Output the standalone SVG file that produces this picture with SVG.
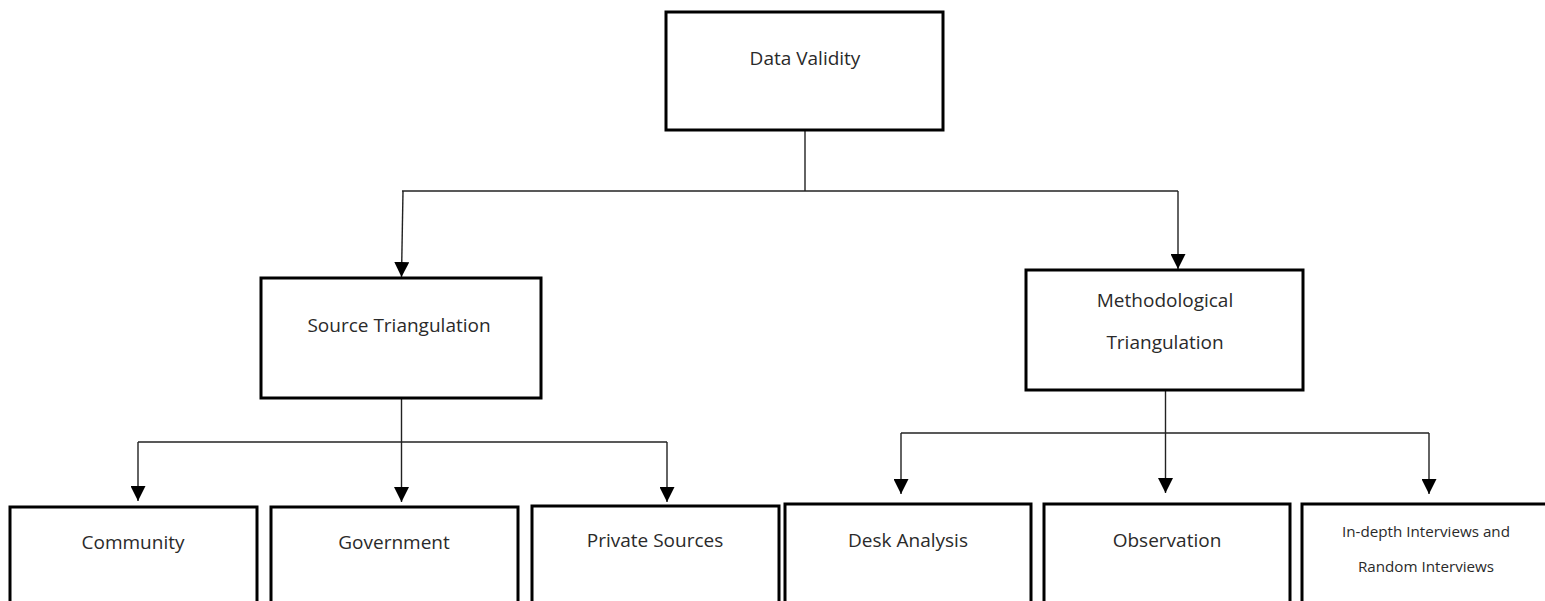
<svg xmlns="http://www.w3.org/2000/svg" width="1545" height="601" viewBox="0 0 1545 601">
<style>
.box{fill:#fff;stroke:#000;stroke-width:3}
.lbl{font-family:"Open Sans","Noto Sans","Liberation Sans",sans-serif;font-size:19px;fill:#2a2a2a;text-anchor:middle}
.sm{font-size:15.2px}
.con{fill:none;stroke:#222;stroke-width:1.4}
</style>
<defs>
<marker id="ah" markerUnits="userSpaceOnUse" markerWidth="15" markerHeight="15" viewBox="0 0 15 15" refX="15" refY="7.5" orient="auto">
<path d="M0,0 L15,7.5 L0,15 Z" fill="#000"/>
</marker>
</defs>
<rect width="1545" height="601" fill="#fff"/>
<g id="connectors">
<path class="con" d="M805,130 V191"/>
<path class="con" d="M402,191 H1178"/>
<path class="con" d="M403,191 L401.5,277" marker-end="url(#ah)"/>
<path class="con" d="M1178,191 V269" marker-end="url(#ah)"/>
<path class="con" d="M401.5,398 V502" marker-end="url(#ah)"/>
<path class="con" d="M138,442 H667"/>
<path class="con" d="M138,442 V501" marker-end="url(#ah)"/>
<path class="con" d="M667,442 V502" marker-end="url(#ah)"/>
<path class="con" d="M1165.5,390 V493" marker-end="url(#ah)"/>
<path class="con" d="M901,433 H1429"/>
<path class="con" d="M901,433 V494" marker-end="url(#ah)"/>
<path class="con" d="M1429,433 V494" marker-end="url(#ah)"/>
</g>
<g id="data-validity"><rect class="box" x="666" y="12" width="277" height="118"/><text class="lbl" x="805" y="65">Data Validity</text></g>
<g id="source-triangulation"><rect class="box" x="261" y="278" width="280" height="120"/><text class="lbl" x="399" y="332">Source Triangulation</text></g>
<g id="methodological-triangulation"><rect class="box" x="1026" y="270" width="277" height="120"/><text class="lbl" x="1165" y="307">Methodological</text><text class="lbl" x="1165" y="349">Triangulation</text></g>
<g id="community"><rect class="box" x="10" y="507" width="247" height="110"/><text class="lbl" x="133" y="549">Community</text></g>
<g id="government"><rect class="box" x="271" y="507" width="247" height="110"/><text class="lbl" x="394" y="549">Government</text></g>
<g id="private-sources"><rect class="box" x="532" y="506" width="247" height="110"/><text class="lbl" x="655" y="547">Private Sources</text></g>
<g id="desk-analysis"><rect class="box" x="785" y="504" width="246" height="110"/><text class="lbl" x="908" y="547">Desk Analysis</text></g>
<g id="observation"><rect class="box" x="1044" y="504" width="246" height="110"/><text class="lbl" x="1167" y="547">Observation</text></g>
<g id="interviews"><rect class="box" x="1302" y="504" width="247" height="110"/><text class="lbl sm" x="1426" y="537">In-depth Interviews and</text><text class="lbl sm" x="1426" y="572">Random Interviews</text></g>
</svg>
